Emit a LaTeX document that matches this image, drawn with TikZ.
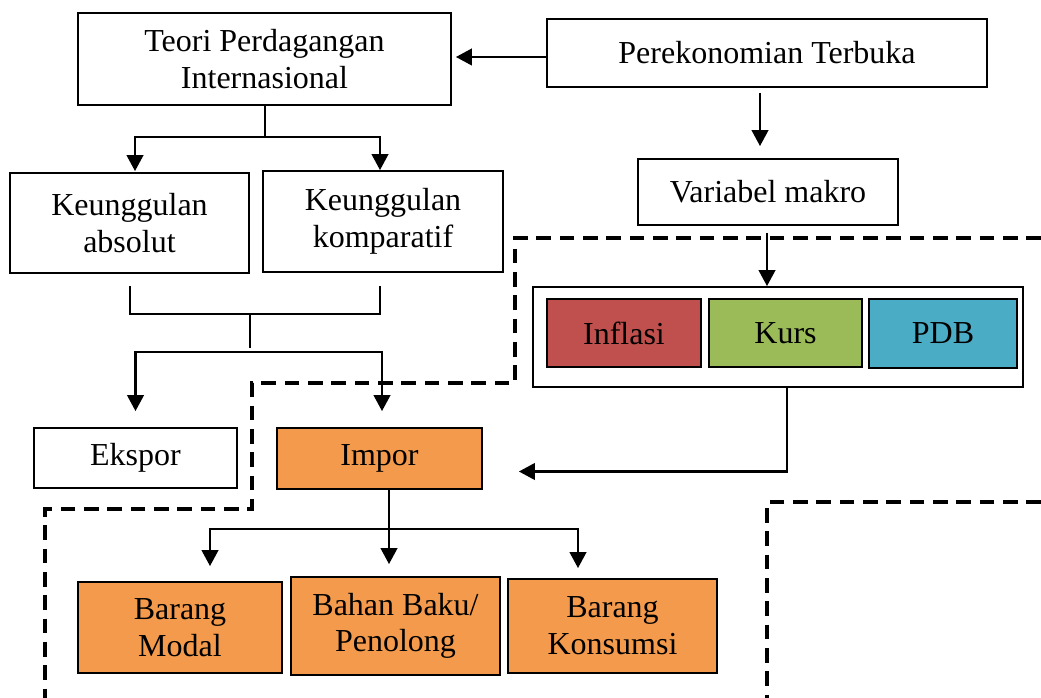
\documentclass[tikz,border=0pt]{standalone}
\usepackage{fontspec}
\setmainfont{Liberation Serif}
\usetikzlibrary{arrows.meta,calc}
\definecolor{orng}{HTML}{F39A4C}
\definecolor{infl}{HTML}{C0504D}
\definecolor{kurs}{HTML}{9BBB59}
\definecolor{pdb}{HTML}{4BACC6}
\tikzset{
  box/.style={draw=black, line width=1.4pt, fill=white, align=center, inner sep=0pt,
    font=\fontsize{24}{27.5}\selectfont},
  obox/.style={box, fill=orng},
  arr/.style={line width=1.6pt, -{Triangle[width=12.5pt,length=12pt]}},
  ln/.style={line width=1.5pt},
  dsh/.style={line width=2.8pt, dash pattern=on 11pt off 6.5pt}
}
\begin{document}
\begin{tikzpicture}[x=0.75pt,y=-0.75pt]
\useasboundingbox (0,0) rectangle (1041,698);
\fill[white] (0,0) rectangle (1041,698);
% nodes
\node[box, minimum width=279.75pt, minimum height=69pt, text depth=-3pt] (teori) at (264.5,59) {Teori Perdagangan\\Internasional};
\node[box, minimum width=330pt, minimum height=51pt] (perek) at (767,53) {Perekonomian Terbuka};
\node[box, minimum width=195pt, minimum height=49.5pt] (var) at (768,192) {Variabel makro};
\node[box, minimum width=179.25pt, minimum height=75pt] (abs) at (129.5,223) {Keunggulan\\absolut};
\node[box, minimum width=180pt, minimum height=75.75pt] (kom) at (383,221.5) {Keunggulan\\komparatif};
\node[box, minimum width=152.25pt, minimum height=45pt] (ekspor) at (135.5,458) {Ekspor};
\node[obox, minimum width=153.75pt, minimum height=45.75pt] (impor) at (379.5,458.5) {Impor};
\node[box, minimum width=367.5pt, minimum height=75pt] (outer) at (778,337) {};
\node[box, fill=infl, minimum width=115.5pt, minimum height=51pt] (inflasi) at (624,333) {Inflasi};
\node[box, fill=kurs, minimum width=114.75pt, minimum height=51pt] (kursn) at (785.5,333) {Kurs};
\node[box, fill=pdb, minimum width=111pt, minimum height=51.75pt] (pdbn) at (943,333.5) {PDB};
\node[obox, minimum width=153pt, minimum height=68.25pt] (modal) at (180,627.5) {Barang\\Modal};
\node[obox, minimum width=156.75pt, minimum height=73.5pt] (bahan) at (395.5,626) {Bahan Baku/\\Penolong};
\node[obox, minimum width=156.75pt, minimum height=70.5pt] (konsumsi) at (612.5,626) {Barang\\Konsumsi};
% dashed borders
\draw[dsh] (1041,238) -- (515,238) -- (515,383) -- (252,383) -- (252,509) -- (45,509) -- (45,698);
\draw[dsh] (1041,502) -- (767,502) -- (767,698);
% connectors
\draw[arr] (perek.west |- 0,57) -- ($(teori.east |- 0,57)+(4,0)$);
\draw[arr] ($(perek.south)+(-7,5)$) -- ($(var.north)+(-8,-12)$);
\draw[arr] ($(var.south)+(-1,7)$) -- ($(outer.north -| var.south)+(-1,0)$);
\draw[ln] (teori.south) -- ($(teori.south)+(0,31)$);
\draw[arr] ($(teori.south)+(0,31)$) -| ($(abs.north)+(5.5,-1)$);
\draw[arr] ($(teori.south)+(0,31)$) -| ($(kom.north)+(-3,0)$);
\coordinate (b1) at ($(abs.south)+(0.5,12)$);
\coordinate (b2) at ($(kom.south)+(-3,13)$);
\draw[ln] (b1) |- ($(b2)+(0,28)$) -- (b2);
\coordinate (j1) at (250,314);
\coordinate (j2) at (250,352);
\draw[ln] (j1) -- (250,348);
\draw[arr] (j2) -| ($(ekspor.north)+(0,-16)$);
\draw[arr] (j2) -| ($(impor.north)+(2.5,-16)$);
\draw[arr] ($(outer.south)+(9,0)$) |- ($(impor.east)+(36,13)$);
\draw[arr] ($(impor.south)+(9.5,0)$) -- ($(bahan.north)+(-6.5,-12)$);
\draw[arr] ($(impor.south)+(9.5,39)$) -| ($(modal.north)+(30,-15)$);
\draw[arr] ($(impor.south)+(9.5,39)$) -| ($(konsumsi.north)+(-34.5,-10)$);
\end{tikzpicture}
\end{document}
